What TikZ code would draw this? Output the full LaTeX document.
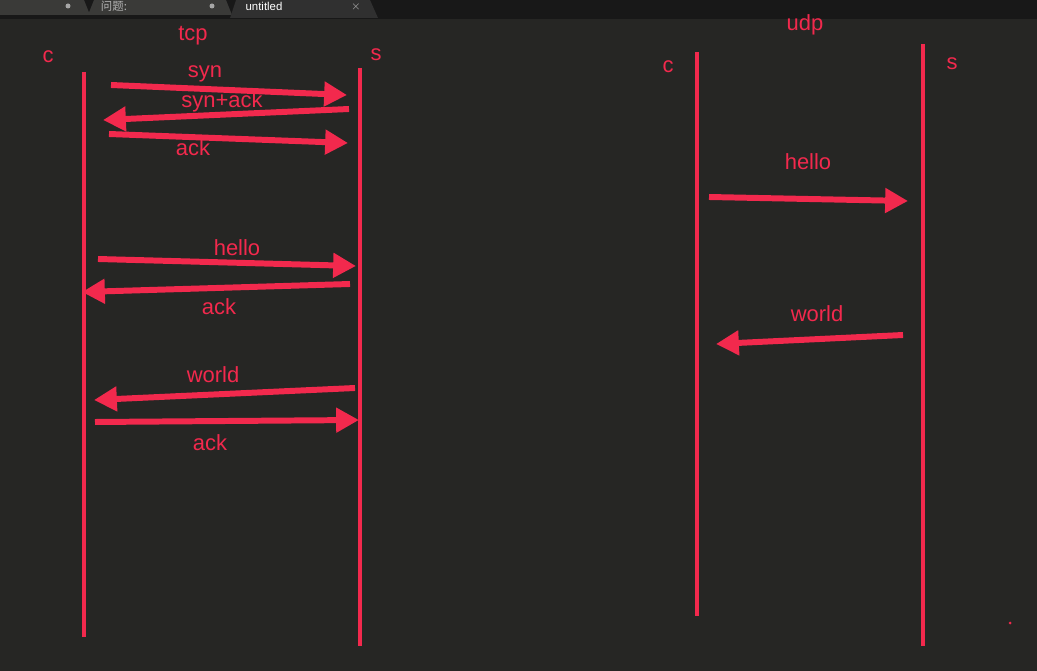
\documentclass[tikz,border=0pt]{standalone}
\usepackage{fontspec}
\setmainfont{Liberation Sans}
\newfontfamily\cjk{Noto Sans CJK SC}
\usetikzlibrary{arrows.meta}
\definecolor{bg}{HTML}{262624}
\definecolor{pen}{HTML}{F2294D}
\definecolor{bar}{HTML}{181818}
\definecolor{tab}{HTML}{3A3A38}
\definecolor{tabon}{HTML}{303030}
\tikzset{
  lifeline/.style={draw=pen, line width=2.4pt},
  msg/.style={draw=pen, line width=3.4pt, -{Triangle[length=13pt,width=13.5pt]}},
  lbl/.style={text=pen, font=\fontsize{12.5}{14}\selectfont, inner sep=0pt, yshift=-1.5pt},
  tabtext/.style={font=\fontsize{6.5}{7}\selectfont, inner sep=0pt},
}

\begin{document}
\begin{tikzpicture}[x=0.02cm, y=-0.02cm]
  \fill[bg] (0,0) rectangle (1037,671);
  \useasboundingbox (0,0) rectangle (1037,671);

  % tab bar
  \fill[bar] (0,0) rectangle (1037,19);
  \fill[tab] (0,0) -- (84,0) -- (90,15) -- (0,15) -- cycle;
  \fill[tab] (94,0) -- (226,0) -- (232,15) -- (88,15) -- cycle;
  \fill[tabon] (236,0) -- (370,0) -- (378,18) -- (230,18) -- cycle;
  \fill[gray!70] (68,6) circle (2.5);
  \fill[gray!70] (212,6) circle (2.5);
  \node[tabtext, text=gray!60] (tab2) at (114,6) {\cjk 问题:};
  \node[tabtext, text=white!85] (tab3) at (264,6.5) {untitled};
  \node[tabtext, text=gray!60] (tabx) at (356,6.5) {$\times$};

  % tcp
  \node[lbl] (tcp) at (193,33) {tcp};
  \node[lbl] (tc) at (48,54) {c};
  \node[lbl] (ts) at (376,52) {s};
  \coordinate (tc-top) at (84,72);
  \coordinate (tc-bot) at (84,637);
  \coordinate (ts-top) at (360,68);
  \coordinate (ts-bot) at (360,646);
  \draw[lifeline] (tc-top) -- (tc-bot);
  \draw[lifeline] (ts-top) -- (ts-bot);

  \coordinate (syn-a) at (111,85);
  \coordinate (syn-b) at (347,95);
  \draw[msg] (syn-a) -- (syn-b);
  \node[lbl] (syn) at (205,71) {syn};

  \coordinate (synack-a) at (349,109);
  \coordinate (synack-b) at (103,120);
  \draw[msg] (synack-a) -- (synack-b);
  \node[lbl] (synack) at (222,99) {syn+ack};

  \coordinate (ack1-a) at (109,134);
  \coordinate (ack1-b) at (348,143);
  \draw[msg] (ack1-a) -- (ack1-b);
  \node[lbl] (ack1) at (193,145) {ack};

  \coordinate (hello1-a) at (98,259);
  \coordinate (hello1-b) at (356,266);
  \draw[msg] (hello1-a) -- (hello1-b);
  \node[lbl] (hello1) at (237,245) {hello};

  \coordinate (ack2-a) at (350,284);
  \coordinate (ack2-b) at (82,292);
  \draw[msg] (ack2-a) -- (ack2-b);
  \node[lbl] (ack2) at (219,304) {ack};

  \coordinate (world1-a) at (355,388);
  \coordinate (world1-b) at (94,400);
  \draw[msg] (world1-a) -- (world1-b);
  \node[lbl] (world1) at (213,372) {world};

  \coordinate (ack3-a) at (95,422);
  \coordinate (ack3-b) at (359,420);
  \draw[msg] (ack3-a) -- (ack3-b);
  \node[lbl] (ack3) at (210,440) {ack};

  % udp
  \node[lbl] (udp) at (805,22) {udp};
  \node[lbl] (uc) at (668,64) {c};
  \node[lbl] (us) at (952,61) {s};
  \coordinate (uc-top) at (697,52);
  \coordinate (uc-bot) at (697,616);
  \coordinate (us-top) at (923,44);
  \coordinate (us-bot) at (923,646);
  \draw[lifeline] (uc-top) -- (uc-bot);
  \draw[lifeline] (us-top) -- (us-bot);

  \coordinate (hello2-a) at (709,197);
  \coordinate (hello2-b) at (908,201);
  \draw[msg] (hello2-a) -- (hello2-b);
  \node[lbl] (hello2) at (808,159) {hello};

  \coordinate (world2-a) at (903,335);
  \coordinate (world2-b) at (716,344);
  \draw[msg] (world2-a) -- (world2-b);
  \node[lbl] (world2) at (817,311) {world};

  \fill[pen] (1010,623) circle (1.5);
\end{tikzpicture}
\end{document}
